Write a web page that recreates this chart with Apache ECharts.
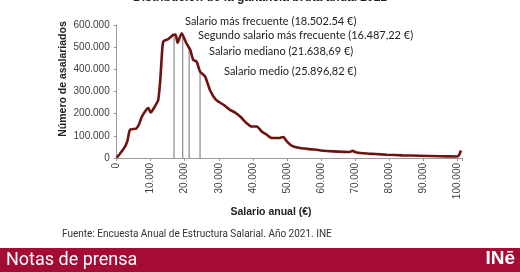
<!DOCTYPE html>
<html><head><meta charset="utf-8">
<script src="https://cdn.jsdelivr.net/npm/echarts@6/dist/echarts.min.js"></script>
<style>html,body{margin:0;padding:0;background:#fff;}#c{width:520px;height:272px;}</style>
</head><body><div id="c"></div>
<script>
// Salary (€) and number of employees
const salary = [0,1000,2400,3200,3900,5700,6500,7400,8800,9300,10000,11300,12200,12800,13300,13700,15200,16600,17300,17900,19100,20400,21600,22500,23500,24500,26000,27400,29200,31400,33300,34800,36300,38200,39700,41200,42600,44100,45600,47500,49000,50000,51500,53900,56800,60000,63700,68500,69300,70500,73500,76000,79400,84000,89200,95000,100000,100600,101200];
const employees = [2000,20000,50000,80000,127000,133000,150000,187000,220000,225000,205000,235000,262000,350000,470000,525000,537000,555000,557000,520000,563000,520000,488000,443000,435000,390000,367000,307000,262000,240000,217000,205000,187000,157000,142000,142000,120000,105000,90000,90000,95000,75000,55000,45000,40000,34000,30000,27000,32000,25000,20000,18000,15000,12000,10000,8000,7000,12000,34000];
// Reference lines (x position as drawn, height up to the curve)
const markerX = [16850, 19400, 21300, 24500];
const markerY = [555000, 560000, 492000, 390000];
const annotations = [
  'Salario más frecuente (18.502.54 €)',
  'Segundo salario más frecuente (16.487,22 €)',
  'Salario mediano (21.638,69 €)',
  'Salario medio (25.896,82 €)'
];
const xTicks = [0,10000,20000,30000,40000,50000,60000,70000,80000,90000,100000];
const yTicks = [0,100000,200000,300000,400000,500000,600000];
const titleText = 'Distribución de la ganancia bruta anual 2021';
const yName = 'Número de asalariados';
const xName = 'Salario anual (€)';
const sourceText = 'Fuente: Encuesta Anual de Estructura Salarial. Año 2021. INE';
const bandText = 'Notas de prensa';

function fmt(v){ return String(Math.round(v)).replace(/\B(?=(\d{3})+(?!\d))/g,'.'); }

const chart = echarts.init(document.getElementById('c'), null, {renderer:'canvas'});
const font = 'Liberation Sans, Arial, sans-serif';
const markerSeries = markerX.map((x,i)=>({
  type:'line', data:[[x,0],[x,markerY[i]]], symbol:'none', silent:true, z:1,
  lineStyle:{color:'#8a8a8a', width:1.2}
}));
const annPos = [[185,21.5],[198,35],[209,51.5],[224,71.5]];
chart.setOption({
  animation:false,
  backgroundColor:'#fff',
  grid:{left:116.7, right:58, top:25, bottom:114},
  xAxis:{type:'value', min:0, max:101500, interval:10000,
    axisLine:{show:true, lineStyle:{color:'#9a9a9a', width:1}},
    axisTick:{show:true, length:3, lineStyle:{color:'#9a9a9a'}},
    splitLine:{show:false},
    axisLabel:{rotate:90, margin:5, color:'#404040', fontSize:10, fontFamily:font,
      formatter:v=> xTicks.includes(v) ? fmt(v) : ''}
  },
  yAxis:{type:'value', min:0, max:600000, interval:100000,
    axisLine:{show:true, lineStyle:{color:'#9a9a9a', width:1}},
    axisTick:{show:true, length:3, lineStyle:{color:'#9a9a9a'}},
    splitLine:{show:false},
    axisLabel:{margin:7, color:'#404040', fontSize:10, fontFamily:font,
      formatter:v=> yTicks.includes(v) ? fmt(v) : ''}
  },
  series:[...markerSeries, {
    type:'line', data:salary.map((s,i)=>[s,employees[i]]), symbol:'none', z:3,
    lineStyle:{color:'#6e1410', width:2.6}, smooth:0.2
  }],
  graphic:[
    {type:'text', left:'center', top:-8, style:{text:titleText, font:'bold 12px '+font, fill:'#222'}, x:-25},
    ...annotations.map((t,i)=>({type:'text', x:annPos[i][0], y:annPos[i][1],
      style:{text:t, font:'11px Lato, '+font, fill:'#222', textVerticalAlign:'middle'}})),
    {type:'text', x:63, y:79, rotation:Math.PI/2, style:{text:yName, font:'bold 10.5px '+font, fill:'#222', textAlign:'center', textVerticalAlign:'middle'}},
    {type:'text', x:271, y:212, style:{text:xName, font:'bold 10.5px '+font, fill:'#222', textAlign:'center', textVerticalAlign:'middle'}},
    {type:'text', x:62, y:234, style:{text:sourceText, font:'10px Roboto, '+font, fill:'#333', textVerticalAlign:'middle'}},
    {type:'rect', shape:{x:0, y:248, width:520, height:24}, style:{fill:'#a40c35'}},
    {type:'text', x:6, y:260, style:{text:bandText, font:'18px Roboto, '+font, fill:'#fff', textVerticalAlign:'middle'}},
    {type:'text', x:515, y:259, style:{text:'INē', font:'bold 19px '+font, fill:'#fff', textAlign:'right', textVerticalAlign:'middle'}}
  ]
});
</script></body></html>
